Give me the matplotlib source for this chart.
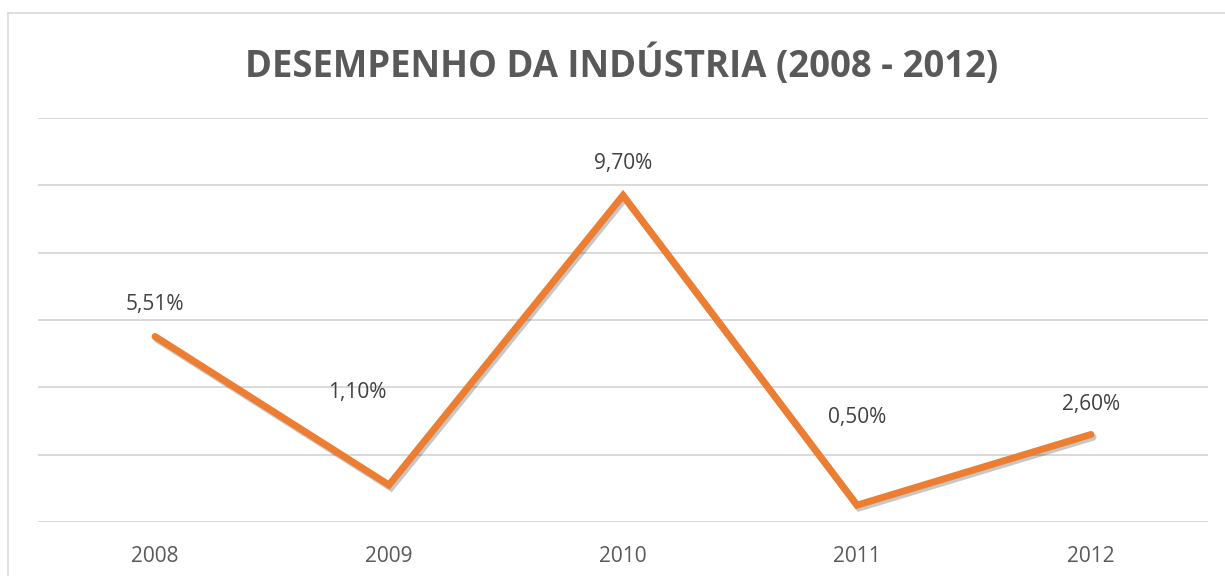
import matplotlib.pyplot as plt
import matplotlib.patheffects as pe
from matplotlib.lines import Line2D

# ---------------------- Data ----------------------
years = ["2008", "2009", "2010", "2011", "2012"]
growth = [5.51, 1.10, 9.70, 0.50, 2.60]
labels = ["5,51%", "1,10%", "9,70%", "0,50%", "2,60%"]
# label offsets in pixels (dx, dy) relative to each point
label_offsets = [(0, 32), (-32, 92), (0, 32), (0, 88), (0, 30)]

plt.rcParams["font.family"] = ["Open Sans", "DejaVu Sans"]

W, H = 1225, 576
fig = plt.figure(figsize=(W / 100, H / 100), dpi=100)
fig.patch.set_facecolor("white")

# chart border (top + left visible, rest cropped)
border = "#D9D9D9"
fig.add_artist(Line2D([8 / W, 1.0], [1 - 13 / H, 1 - 13 / H], color=border, lw=1.2))
fig.add_artist(Line2D([8 / W, 8 / W], [0, 1 - 13 / H], color=border, lw=1.2))

ax = fig.add_axes([38 / W, 1 - 522 / H, (1208 - 38) / W, (522 - 118) / H])
x = list(range(len(years)))

ax.plot(x, growth, color="#ED7D31", lw=5, solid_joinstyle="miter", solid_capstyle="round",
        path_effects=[pe.SimpleLineShadow(offset=(1.5, -2), shadow_color="black", alpha=0.22),
                      pe.Normal()], zorder=3)

for xi, yi, lab, (dx, dy) in zip(x, growth, labels, label_offsets):
    ax.annotate(lab, (xi, yi), xytext=(dx, dy), textcoords="offset pixels",
                ha="center", va="center", fontsize=15, color="#404040")

ax.set_xlim(-0.5, len(years) - 0.5)
ax.set_ylim(0, 12)
ax.set_yticks(range(0, 13, 2))
ax.yaxis.grid(True, color="#D9D9D9", lw=1.4)
ax.set_axisbelow(True)
ax.tick_params(axis="y", left=False, labelleft=False)
ax.set_xticks(x)
ax.set_xticklabels(years, fontsize=15, color="#595959")
ax.tick_params(axis="x", length=0, pad=17)
for s in ax.spines.values():
    s.set_visible(False)

fig.text(622 / W, 1 - 65 / H, "DESEMPENHO DA INDÚSTRIA (2008 - 2012)",
         ha="center", va="center", fontsize=26.3, fontweight="bold", color="#595959")

fig.savefig("out.png", dpi=100)
